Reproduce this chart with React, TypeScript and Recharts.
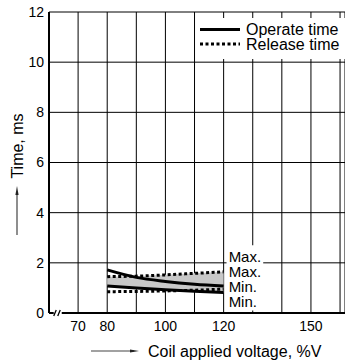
import React from 'react';
import {
  ComposedChart,
  Area,
  Line,
  XAxis,
  YAxis,
  CartesianGrid,
  ReferenceArea,
  ReferenceDot,
  Legend,
} from 'recharts';

// coil applied voltage, %V
const voltage = [80, 90, 100, 110, 120];
// times in ms
const operateMax = [1.72, 1.42, 1.26, 1.15, 1.08];
const operateMin = [1.08, 1.0, 0.93, 0.87, 0.82];
const releaseMax = [1.45, 1.47, 1.52, 1.58, 1.64];
const releaseMin = [0.85, 0.86, 0.88, 0.91, 0.95];

const xGridTicks = [60, 70, 80, 90, 100, 110, 120, 130, 140, 150, 160];
const xLabelTicks = [70, 80, 100, 120, 150];
const yTicks = [0, 2, 4, 6, 8, 10, 12];

const curveLabels = ['Max.', 'Max.', 'Min.', 'Min.'];
const curveLabelY = [2.24, 1.64, 1.04, 0.44];

const legendNames = ['Operate time', 'Release time'];

const FONT = "'Liberation Sans', Arial, sans-serif";

const data = voltage.map((v, i) => ({
  v,
  opMax: operateMax[i],
  opMin: operateMin[i],
  relMax: releaseMax[i],
  relMin: releaseMin[i],
  band: [operateMin[i], releaseMax[i]],
}));

// eslint-disable-next-line @typescript-eslint/no-explicit-any
const XTick = ({ x, y, payload }: any) => {
  if (!xLabelTicks.includes(payload.value)) return null;
  return (
    <text x={x} y={y} dy="0.71em" textAnchor="middle" fontSize={14} fill="#000" fontFamily={FONT}>
      {payload.value}
    </text>
  );
};

// eslint-disable-next-line @typescript-eslint/no-explicit-any
const YTitle = (_: any) => (
  <g>
    <text
      x={17}
      y={146}
      transform="rotate(-90 17 146)"
      textAnchor="middle"
      dominantBaseline="central"
      fontSize={16}
      fill="#000"
      fontFamily={FONT}
    >
      Time, ms
    </text>
    <line x1={17} y1={235} x2={17} y2={192} stroke="#444" strokeWidth={1.2} />
    <polygon points="17,186 15.4,195 18.6,195" fill="#222" />
  </g>
);

// eslint-disable-next-line @typescript-eslint/no-explicit-any
const XTitle = (_: any) => (
  <g>
    <line x1={91} y1={351} x2={134} y2={351} stroke="#444" strokeWidth={1.2} />
    <polygon points="139,351 130,349.4 130,352.6" fill="#222" />
    <text x={148} y={351} dominantBaseline="central" fontSize={16} fill="#000" fontFamily={FONT}>
      Coil applied voltage, %V
    </text>
  </g>
);

// eslint-disable-next-line @typescript-eslint/no-explicit-any
const AxisBreak = ({ cx, cy }: any) => (
  <g>
    <rect x={cx - 4} y={cy - 3} width={8} height={6} fill="#fff" />
    <line x1={cx - 4} y1={cy + 3} x2={cx - 1.5} y2={cy - 3} stroke="#000" strokeWidth={1.3} />
    <line x1={cx} y1={cy + 3} x2={cx + 2.5} y2={cy - 3} stroke="#000" strokeWidth={1.3} />
  </g>
);

const LegendBox = () => (
  <svg width={148} height={41} style={{ display: 'block', background: '#fff' }}>
    <line x1={3} y1={11.5} x2={43} y2={11.5} stroke="#000" strokeWidth={3} />
    <text x={49} y={11.5} dominantBaseline="central" fontSize={16} fontFamily={FONT} fill="#000">
      {legendNames[0]}
    </text>
    <line x1={3} y1={26} x2={43} y2={26} stroke="#000" strokeWidth={3} strokeDasharray="3 2.5" />
    <text x={49} y={26} dominantBaseline="central" fontSize={16} fontFamily={FONT} fill="#000">
      {legendNames[1]}
    </text>
  </svg>
);

export default function App() {
  return (
    <div style={{ position: 'absolute', left: 0, top: 0, width: 345, height: 363, background: '#fff' }}>
      <ComposedChart
        width={345}
        height={363}
        data={data}
        margin={{ top: 12, right: 0, bottom: 0, left: 0 }}
        style={{ fontFamily: FONT }}
      >
        <CartesianGrid stroke="#000" strokeWidth={1} />
        <XAxis
          dataKey="v"
          type="number"
          domain={[60, 161.7]}
          ticks={xGridTicks}
          interval={0}
          allowDataOverflow
          height={50}
          tick={<XTick />}
          tickLine={false}
          tickSize={0}
          tickMargin={8}
          axisLine={{ stroke: '#000', strokeWidth: 2 }}
          label={<XTitle />}
        />
        <YAxis
          type="number"
          domain={[0, 12]}
          ticks={yTicks}
          interval={0}
          width={49}
          tick={{ fill: '#000', fontSize: 14, fontFamily: FONT }}
          tickLine={false}
          tickSize={0}
          tickMargin={5}
          axisLine={{ stroke: '#000', strokeWidth: 2 }}
          label={<YTitle />}
        />
        <Legend
          layout="horizontal"
          verticalAlign="middle"
          align="center"
          content={<LegendBox />}
          wrapperStyle={{ position: 'absolute', left: 197, top: 18, width: 148, height: 41 }}
        />
        <ReferenceArea x1={121} x2={133.6} y1={0.1} y2={2.7} fill="#fff" fillOpacity={1} stroke="none" />
        <Area
          dataKey="band"
          type="monotone"
          fill="#c8c8c8"
          fillOpacity={1}
          stroke="none"
          isAnimationActive={false}
        />
        <Line dataKey="relMax" type="monotone" stroke="#000" strokeWidth={3} strokeDasharray="3 2.5" dot={false} isAnimationActive={false} />
        <Line dataKey="relMin" type="monotone" stroke="#000" strokeWidth={3} strokeDasharray="3 2.5" dot={false} isAnimationActive={false} />
        <Line dataKey="opMax" type="monotone" stroke="#000" strokeWidth={3} dot={false} isAnimationActive={false} />
        <Line dataKey="opMin" type="monotone" stroke="#000" strokeWidth={3} dot={false} isAnimationActive={false} />
        {curveLabels.map((t, i) => (
          <ReferenceDot
            key={i}
            x={120}
            y={curveLabelY[i]}
            r={0}
            shape={(p: any) => (
              <text x={p.cx + 5} y={p.cy} dominantBaseline="central" fontSize={15} fontFamily={FONT} fill="#000">
                {t}
              </text>
            )}
          />
        ))}
        <ReferenceDot x={63} y={0} r={0} shape={<AxisBreak />} />
      </ComposedChart>
    </div>
  );
}
